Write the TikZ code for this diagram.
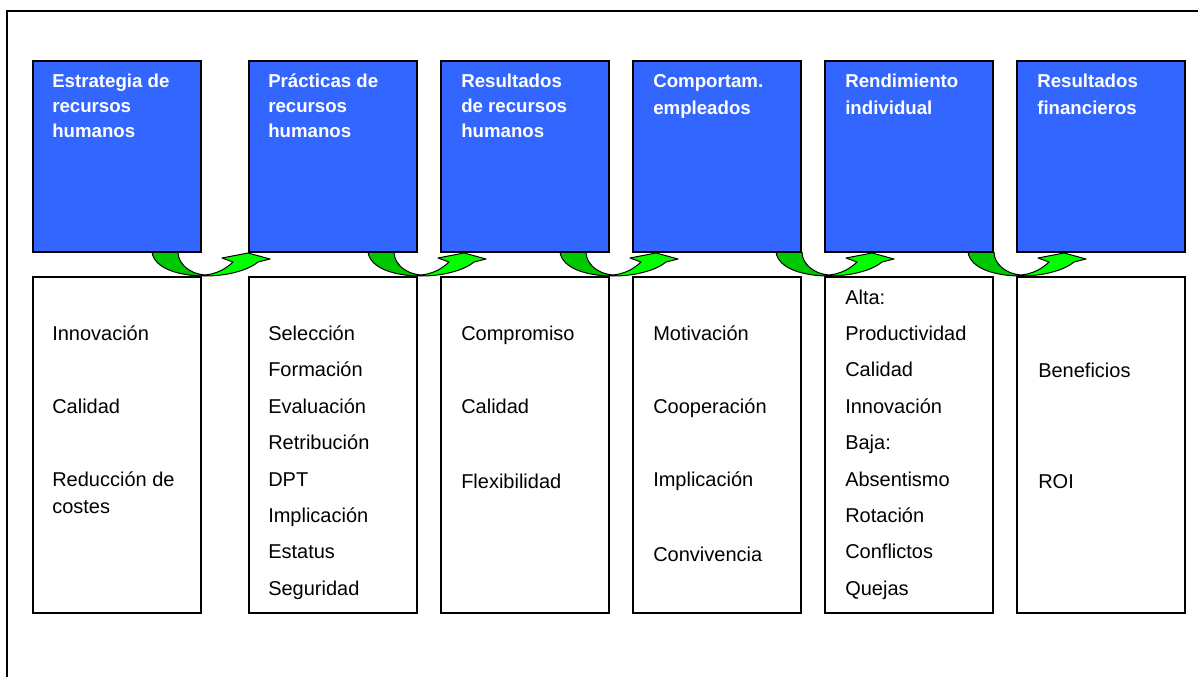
\documentclass[tikz,border=0pt]{standalone}
\usepackage{fontspec}
\setmainfont{Liberation Sans}
\definecolor{hdrblue}{RGB}{51,102,255}
\definecolor{arrdark}{RGB}{0,200,0}
\definecolor{arrlight}{RGB}{0,255,0}
% curved green arrow from under one header box to the next; #1 = left x of the arrow
\newcommand{\curvedflow}[1]{%
  \begin{scope}[shift={(#1,252)}]
    \fill[arrdark] (0,0) .. controls (2,16) and (26,24) .. (53,24) -- (53,23)
      .. controls (38,22) and (26,12) .. (26,0) -- cycle;
    \fill[arrlight] (53,24) .. controls (78,24) and (98,17) .. (106,10) -- (118,7) -- (96,1)
      -- (70,6) -- (81,10) .. controls (74,17) and (64,22) .. (53,23) -- cycle;
    \draw[line width=0.75pt, line join=round] (26,0) .. controls (26,12) and (38,22) .. (53,23)
      .. controls (64,22) and (74,17) .. (81,10) -- (70,6) -- (96,1) -- (118,7) -- (106,10)
      .. controls (98,17) and (78,24) .. (53,24) .. controls (26,24) and (2,16) .. (0,0);
  \end{scope}}
\begin{document}
\begin{tikzpicture}[x=0.75pt,y=-0.75pt,
  hdrbox/.style={draw=black, line width=1.5pt, fill=hdrblue, minimum width=126pt,
    minimum height=143.25pt, inner sep=0pt, anchor=north west},
  bodybox/.style={draw=black, line width=1.5pt, fill=white, minimum width=126pt,
    minimum height=252pt, inner sep=0pt, anchor=north west},
  hdrtext/.style={anchor=base west, inner sep=0pt, text=white,
    font=\bfseries\fontsize{14pt}{18pt}\selectfont},
  bodytext/.style={anchor=base west, inner sep=0pt,
    font=\fontsize{15pt}{18pt}\selectfont}]
\useasboundingbox (0,0) rectangle (1198,677);
\clip (0,0) rectangle (1198,677);

% outer frame
\draw[line width=1.5pt] (7,700) -- (7,11) -- (1220,11);

% arrows linking the stages
\foreach \s in {152,368,560,776,968} {\curvedflow{\s}}

% header and detail boxes
\foreach \i/\x in {1/32,2/248,3/440,4/632,5/824,6/1016} {
  \node[hdrbox] (h\i) at (\x,60) {};
  \node[bodybox] (b\i) at (\x,276) {};
}

% header titles
\foreach \t/\y [count=\k] in {Estrategia de/88, recursos/113, humanos/138}
  \node[hdrtext] (ht1-\k) at (52,\y) {\t};
\foreach \t/\y [count=\k] in {Prácticas de/88, recursos/113, humanos/138}
  \node[hdrtext] (ht2-\k) at (268,\y) {\t};
\foreach \t/\y [count=\k] in {Resultados/88, de recursos/113, humanos/138}
  \node[hdrtext] (ht3-\k) at (461,\y) {\t};
\foreach \t/\y [count=\k] in {Comportam./88, empleados/115}
  \node[hdrtext] (ht4-\k) at (653,\y) {\t};
\foreach \t/\y [count=\k] in {Rendimiento/88, individual/115}
  \node[hdrtext] (ht5-\k) at (845,\y) {\t};
\foreach \t/\y [count=\k] in {Resultados/88, financieros/115}
  \node[hdrtext] (ht6-\k) at (1037,\y) {\t};

% detail items
\foreach \t/\y [count=\k] in {Innovación/340, Calidad/413, Reducción de/486, costes/513}
  \node[bodytext] (bt1-\k) at (52,\y) {\t};
\foreach \t/\y [count=\k] in {Selección/340, Formación/376, Evaluación/413, Retribución/449,
    DPT/486, Implicación/522, Estatus/558, Seguridad/595}
  \node[bodytext] (bt2-\k) at (268,\y) {\t};
\foreach \t/\y [count=\k] in {Compromiso/340, Calidad/413, Flexibilidad/488}
  \node[bodytext] (bt3-\k) at (461,\y) {\t};
\foreach \t/\y [count=\k] in {Motivación/340, Cooperación/413, Implicación/486, Convivencia/561}
  \node[bodytext] (bt4-\k) at (653,\y) {\t};
\foreach \t/\y [count=\k] in {Alta:/304, Productividad/340, Calidad/376, Innovación/413,
    Baja:/449, Absentismo/486, Rotación/522, Conflictos/558, Quejas/595}
  \node[bodytext] (bt5-\k) at (845,\y) {\t};
\foreach \t/\y [count=\k] in {Beneficios/377, ROI/488}
  \node[bodytext] (bt6-\k) at (1038,\y) {\t};
\end{tikzpicture}
\end{document}
